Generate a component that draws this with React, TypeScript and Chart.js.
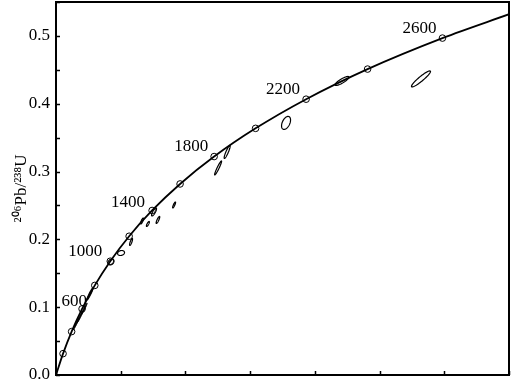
import { useEffect, useRef } from "react";
import { Chart, registerables } from "chart.js";

Chart.register(...registerables);

// Concordia nodes (age in Ma, 207Pb/235U, 206Pb/238U)
const AGES = [0, 200, 400, 600, 800, 1000, 1200, 1400, 1600, 1800, 2000, 2200, 2400, 2600, 2750];
const CONC_X = [0, 0.2177, 0.4828, 0.8056, 1.1987, 1.6774, 2.2603, 2.9701, 3.8344, 4.8869, 6.1685, 7.7292, 9.6296, 11.9438, 14.005];
const CONC_Y = [0, 0.0315, 0.064, 0.0975, 0.1321, 0.1678, 0.2046, 0.2426, 0.2817, 0.3221, 0.3637, 0.4067, 0.4511, 0.4968, 0.532];

// Ages that carry an open-circle marker and ages that carry a label
const MARKER_AGES = [200, 400, 600, 800, 1000, 1200, 1400, 1600, 1800, 2000, 2200, 2400, 2600];
const LABEL_AGES = [600, 1000, 1400, 1800, 2200, 2600];

// Analyses: error ellipses (centre, 2-sigma half widths, error correlation)
const ELL_X = [8.84, 11.28, 7.11, 5.01, 5.29, 1.7, 2.01, 2.32, 2.66, 2.84, 3.03, 3.15, 3.65, 1.05];
const ELL_Y = [0.4336, 0.4366, 0.3717, 0.3053, 0.3289, 0.1667, 0.1799, 0.1962, 0.2271, 0.2227, 0.2404, 0.2286, 0.2507, 0.1195];
const ELL_SX = [0.216, 0.294, 0.139, 0.108, 0.093, 0.093, 0.108, 0.046, 0.046, 0.046, 0.077, 0.056, 0.046, 0.093];
const ELL_SY = [0.0066, 0.0118, 0.0096, 0.0103, 0.0096, 0.0044, 0.0037, 0.0052, 0.0044, 0.0037, 0.0059, 0.0052, 0.0044, 0.0088];
const ELL_RHO = [0.85, 0.93, 0.45, 0.95, 0.9, 0.3, 0.2, 0.8, 0.8, 0.8, 0.8, 0.85, 0.85, 0.95];

// Dense cluster of overlapping analyses near 600 Ma
const CL_X = [0.62, 0.74, 0.87];
const CL_Y = [0.0752, 0.0855, 0.0973];
const CL_SX = [0.093, 0.093, 0.093];
const CL_SY = [0.0088, 0.0088, 0.0088];
const CL_RHO = [0.97, 0.97, 0.97];

const X_MIN = 0;
const X_MAX = 14;
const X_STEP = 2;
const Y_MIN = 0;
const Y_MAX = 0.55;
const Y_STEP = 0.05;

const Y_TITLE = "\u00B2\u2070\u2076Pb/\u00B2\u00B3\u2078U";

const FONT = "'Liberation Serif', 'Times New Roman', serif";

function ellipsePath(ctx: CanvasRenderingContext2D, xs: any, ys: any, cx: number, cy: number, sx: number, sy: number, rho: number) {
  const n = 72;
  const k = Math.sqrt(Math.max(0, 1 - rho * rho));
  ctx.beginPath();
  for (let i = 0; i <= n; i++) {
    const t = (i / n) * Math.PI * 2;
    const vx = cx + sx * Math.cos(t);
    const vy = cy + sy * (rho * Math.cos(t) + k * Math.sin(t));
    const px = xs.getPixelForValue(vx);
    const py = ys.getPixelForValue(vy);
    if (i === 0) ctx.moveTo(px, py);
    else ctx.lineTo(px, py);
  }
  ctx.closePath();
}

const LABEL_OFFSET: Record<number, [number, number]> = {
  600: [5, -7],
  1000: [-8, -10],
  1400: [-7, -8],
};

const overlay = {
  id: "overlay",
  afterDatasetsDraw(chart: any) {
    const { ctx, chartArea, scales } = chart;
    const xs = scales.x;
    const ys = scales.y;
    const { left, right, top, bottom } = chartArea;
    ctx.save();

    // cluster (filled)
    ctx.fillStyle = "#000";
    ctx.strokeStyle = "#000";
    ctx.lineWidth = 1;
    for (let i = 0; i < CL_X.length; i++) {
      ellipsePath(ctx, xs, ys, CL_X[i], CL_Y[i], CL_SX[i], CL_SY[i], CL_RHO[i]);
      ctx.fill();
      ctx.stroke();
    }
    // open ellipses
    ctx.lineWidth = 1.2;
    for (let i = 0; i < ELL_X.length; i++) {
      ellipsePath(ctx, xs, ys, ELL_X[i], ELL_Y[i], ELL_SX[i], ELL_SY[i], ELL_RHO[i]);
      ctx.stroke();
    }

    // frame
    ctx.lineWidth = 2;
    ctx.strokeStyle = "#000";
    ctx.strokeRect(left, top, right - left, bottom - top);

    // inward ticks
    ctx.lineWidth = 1.5;
    ctx.beginPath();
    ys.ticks.forEach((t: any) => {
      const py = Math.round(ys.getPixelForValue(t.value)) + 0.5;
      ctx.moveTo(left, py);
      ctx.lineTo(left + 4, py);
    });
    xs.ticks.forEach((t: any) => {
      const px = Math.round(xs.getPixelForValue(t.value)) + 0.5;
      ctx.moveTo(px, bottom);
      ctx.lineTo(px, bottom - 4);
    });
    ctx.stroke();

    // age labels
    ctx.fillStyle = "#000";
    ctx.font = `17px ${FONT}`;
    ctx.textAlign = "right";
    ctx.textBaseline = "middle";
    LABEL_AGES.forEach((age) => {
      const idx = AGES.indexOf(age);
      const px = xs.getPixelForValue(CONC_X[idx]);
      const py = ys.getPixelForValue(CONC_Y[idx]);
      const off = LABEL_OFFSET[age] || [-6, -10];
      ctx.fillText(String(age), px + off[0], py + off[1]);
    });

    ctx.restore();
  },
};

export default function App() {
  const ref = useRef<HTMLCanvasElement | null>(null);

  useEffect(() => {
    if (!ref.current) return;
    const curve = AGES.map((_, i) => ({ x: CONC_X[i], y: CONC_Y[i] }));
    const markers = MARKER_AGES.map((a) => {
      const i = AGES.indexOf(a);
      return { x: CONC_X[i], y: CONC_Y[i] };
    });

    const zeroPad = (s: any) => {
      s.paddingTop = 0;
      s.paddingBottom = 0;
      s.paddingLeft = 0;
      s.paddingRight = 0;
    };

    const chart = new Chart(ref.current, {
      type: "scatter",
      data: {
        datasets: [
          {
            label: "Concordia",
            data: curve,
            showLine: true,
            borderColor: "#000",
            borderWidth: 1.8,
            pointRadius: 0,
            cubicInterpolationMode: "monotone",
            fill: false,
          } as any,
          {
            label: "Ages",
            data: markers,
            showLine: false,
            pointRadius: 3.3,
            pointBackgroundColor: "#fff",
            pointBorderColor: "#000",
            pointBorderWidth: 1,
          } as any,
        ],
      },
      options: {
        responsive: false,
        animation: false,
        layout: { autoPadding: false, padding: { top: 2, right: 2, left: 0, bottom: 0 } },
        plugins: {
          legend: { display: false },
          tooltip: { enabled: false },
        },
        scales: {
          x: {
            type: "linear",
            min: X_MIN,
            max: X_MAX,
            ticks: { stepSize: X_STEP, display: false },
            grid: { display: false, drawTicks: false },
            border: { display: false },
            afterFit: (s: any) => {
              s.height = 9;
              zeroPad(s);
            },
          },
          y: {
            type: "linear",
            min: Y_MIN,
            max: Y_MAX,
            ticks: {
              stepSize: Y_STEP,
              padding: 6,
              color: "#000",
              font: { family: FONT, size: 17 },
              callback: (v: any) => {
                const n = Number(v) * 10;
                return Math.abs(n - Math.round(n)) < 1e-6 ? Number(v).toFixed(1) : "";
              },
            },
            grid: { display: false, drawTicks: false },
            border: { display: false },
            title: {
              display: true,
              text: Y_TITLE,
              color: "#000",
              font: { family: FONT, size: 17 },
              padding: { top: 11, bottom: 0 },
            },
            afterFit: (s: any) => {
              s.width = 56;
              zeroPad(s);
            },
          },
        },
      },
      plugins: [overlay],
    });
    return () => chart.destroy();
  }, []);

  return (
    <div style={{ position: "fixed", left: 0, top: 0, width: 511, height: 384, background: "#fff" }}>
      <canvas ref={ref} width={511} height={384} style={{ display: "block" }} />
    </div>
  );
}
